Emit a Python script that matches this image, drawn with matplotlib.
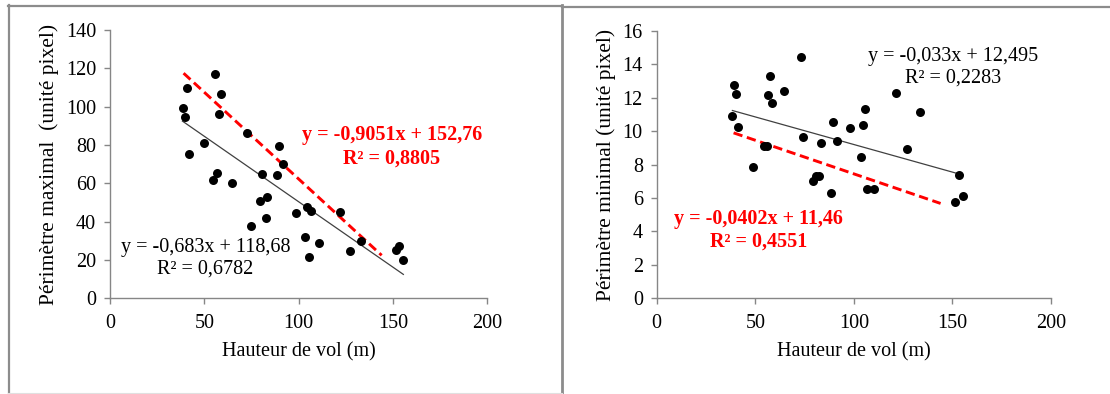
import matplotlib
matplotlib.use("Agg")
import matplotlib.pyplot as plt
import numpy as np
from matplotlib.lines import Line2D

plt.rcParams['font.family'] = ['Liberation Serif', 'DejaVu Serif']

# ---- data ----
hauteur_max = [38.5, 39.8, 40.6, 41.7, 49.8, 54.8, 55.7, 56.9, 57.8, 58.7, 64.8, 72.8,
               74.6, 79.5, 80.6, 82.5, 83.4, 88.3, 89.6, 91.5, 98.4, 103.5, 104.6, 105.7,
               106.5, 110.6, 121.9, 127.2, 133.0, 151.4, 153.4, 155.5]
perim_max = [99.1, 94.4, 109.9, 75.3, 81.2, 61.7, 117.0, 65.2, 96.0, 106.6, 60.3, 86.1,
             37.9, 50.8, 64.7, 41.7, 52.9, 64.2, 79.7, 70.1, 44.3, 32.2, 47.8, 21.6,
             45.6, 28.9, 45.0, 24.7, 30.1, 25.2, 27.5, 20.0]

hauteur_min = [38.4, 39.2, 40.4, 41.4, 49.0, 54.4, 55.8, 56.6, 57.5, 58.5, 64.4, 73.2,
               74.2, 79.5, 80.6, 82.5, 83.5, 88.4, 89.4, 91.3, 98.2, 103.6, 104.5, 105.5,
               106.5, 110.4, 121.2, 127.1, 133.4, 151.3, 153.2, 155.5]
perim_min = [10.90, 12.77, 12.21, 10.22, 7.85, 9.13, 9.13, 12.15, 13.27, 11.68, 12.41, 14.43,
             9.66, 7.03, 7.31, 7.31, 9.30, 6.32, 10.52, 9.42, 10.16, 8.45, 10.34, 11.32,
             6.55, 6.55, 12.29, 8.93, 11.12, 5.76, 7.39, 6.14]

# trend lines (slope, intercept) and x ranges
fit_all_max = (-0.683, 118.68)
fit_sub_max = (-0.9051, 152.76)
fit_all_min = (-0.033, 12.495)
fit_sub_min = (-0.0402, 11.46)
range_all = (38.4, 155.5)
range_sub = (39.0, 144.0)

label_all_max = "y = -0,683x + 118,68\nR² = 0,6782"
label_sub_max = "y = -0,9051x + 152,76\nR² = 0,8805"
label_all_min = "y = -0,033x + 12,495\nR² = 0,2283"
label_sub_min = "y = -0,0402x + 11,46\nR² = 0,4551"

xlabel = "Hauteur de vol (m)"
ylabel_max = "Périmètre maximal  (unité pixel)"
ylabel_min = "Périmètre minimal (unité pixel)"

W, H = 1110, 394
fig = plt.figure(figsize=(W / 100, H / 100), dpi=100)

def px_axes(x0, x1, y_top, y_bot):
    return [x0 / W, (H - y_bot) / H, (x1 - x0) / W, (y_bot - y_top) / H]

ax1 = fig.add_axes(px_axes(110, 487.3, 30, 298.3))
ax2 = fig.add_axes(px_axes(656.7, 1051, 30.7, 298.3))

spine_col = '#868686'
FS = 14.5

def style(ax, ymax, ystep, ylabel):
    ax.set_xlim(0, 200)
    ax.set_ylim(0, ymax)
    ax.set_xticks(np.arange(0, 201, 50))
    ax.set_yticks(np.arange(0, ymax + 0.001, ystep))
    for s in ['top', 'right']:
        ax.spines[s].set_visible(False)
    for s in ['left', 'bottom']:
        ax.spines[s].set_color(spine_col)
        ax.spines[s].set_linewidth(1.0)
    ax.tick_params(axis='both', direction='out', length=4, width=1.0, color=spine_col,
                   labelsize=FS, labelcolor='black')
    ax.tick_params(axis='y', pad=6)
    ax.tick_params(axis='x', pad=7)
    ax.set_xlabel(xlabel, fontsize=FS, labelpad=7)
    ax.set_ylabel(ylabel, fontsize=15.5, labelpad=5)
    ax.patch.set_alpha(0)

def draw(ax, xs, ys, fit_all, fit_sub):
    ax.scatter(xs, ys, s=42, color='black', zorder=3, linewidths=0)
    xa = np.array(range_all)
    ax.plot(xa, fit_all[0] * xa + fit_all[1], color='#404040', lw=0.9, zorder=2)
    xb = np.array(range_sub)
    ax.plot(xb, fit_sub[0] * xb + fit_sub[1], color='#ff0000', lw=2.1,
            dashes=(3.2, 1.6), zorder=2)

style(ax1, 140, 20, ylabel_max)
draw(ax1, hauteur_max, perim_max, fit_all_max, fit_sub_max)
ax1.text(149.3, 79.0, label_sub_max, color='#ff0000', fontsize=FS, fontweight='bold',
         ha='center', va='center', linespacing=1.2)
ax1.text(50.5, 20.9, label_all_max, color='black', fontsize=FS,
         ha='center', va='center', linespacing=1.2)

style(ax2, 16, 2, ylabel_min)
draw(ax2, hauteur_min, perim_min, fit_all_min, fit_sub_min)
ax2.text(150.3, 13.83, label_all_min, color='black', fontsize=FS,
         ha='center', va='center', linespacing=1.2)
ax2.text(51.6, 4.05, label_sub_min, color='#ff0000', fontsize=FS, fontweight='bold',
         ha='center', va='center', linespacing=1.2)

# panel frames
frame_col = '#8c8c8c'
def fline(x0, y0, x1, y1, lw, col=frame_col):
    fig.add_artist(Line2D([x0 / W, x1 / W], [1 - y0 / H, 1 - y1 / H],
                          color=col, lw=lw, transform=fig.transFigure))

fline(8, 5.5, 562, 5.5, 1.6)
fline(562, 6.5, 1110, 6.5, 1.6)
fline(8.5, 5, 8.5, 394, 1.6)
fline(562, 5, 562, 394, 2.0)
fline(8, 393, 562, 393, 0.8, '#e0e0e0')

fig.savefig("out.png", dpi=100)
